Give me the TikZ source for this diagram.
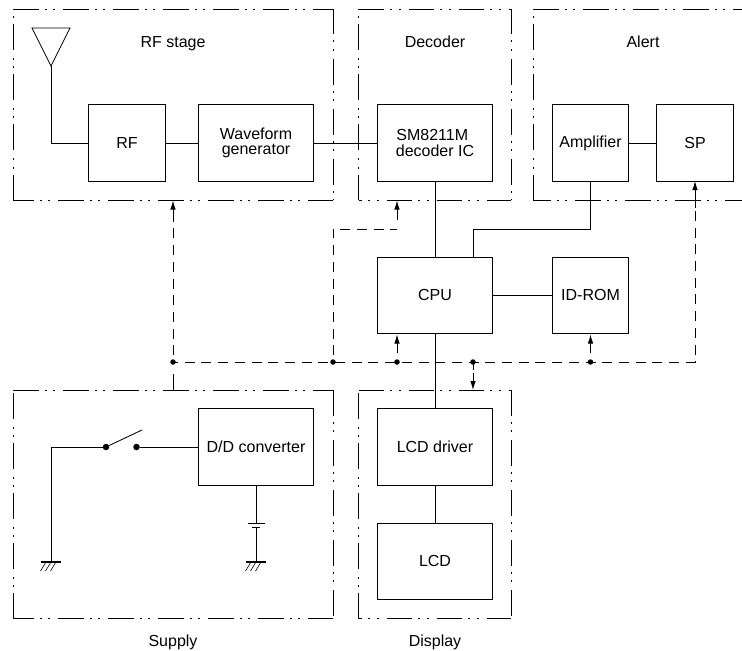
\documentclass[tikz,border=0pt]{standalone}
\usepackage{fontspec}
\setmainfont{Liberation Sans}
\usetikzlibrary{arrows.meta,calc}
\tikzset{
  boxnode/.style={draw,line width=1.05bp,inner sep=0pt,align=center,font=\fontsize{16bp}{15.5bp}\selectfont},
  smallbox/.style={boxnode,minimum width=76.5bp,minimum height=76.5bp},
  widebox/.style={boxnode,minimum width=114.5bp,minimum height=76.5bp},
  framelabel/.style={inner sep=0pt,anchor=base,font=\fontsize{16bp}{16bp}\selectfont},
  wire/.style={line width=0.85bp},
  frameline/.style={line width=0.85bp,dash pattern=on 25.5bp off 6bp on 2bp off 6.5bp on 2bp off 8bp},
  power/.style={line width=0.85bp,dash pattern=on 10bp off 6.7bp},
  stem/.style={line width=0.85bp,-{Latex[length=9bp,width=5.5bp]}},
  junction/.style={circle,fill=black,inner sep=0pt,minimum size=5.5bp},
  contact/.style={circle,fill=black,inner sep=0pt,minimum size=6.5bp},
}
\newcommand{\dashframe}[5]{%
  \draw[frameline] (#1,#3) -- (#2,#3);
  \draw[frameline] (#2,#3) -- (#2,#4);
  \draw[frameline] (#1,#4) -- (#1,#3);
  \draw[frameline,dash phase=#5bp] (#1,#4) -- (#2,#4);
}
\newcommand{\earth}[1]{%
  \draw[line width=1.05bp] ($(#1)+(-10,0)$) -- ($(#1)+(10,0)$);
  \foreach \dx in {-5,0,5}{\draw[line width=0.6bp] ($(#1)+(\dx,0)$) -- ($(#1)+(\dx-5.5,9)$);}
}
\newcommand{\up}[1]{\raisebox{1bp}{#1}}
\begin{document}
\begin{tikzpicture}[x=1bp,y=-1bp]
\useasboundingbox (0,0) rectangle (742,651);
% frames
\dashframe{13}{333}{9}{200}{5}
\dashframe{358.5}{511}{9}{200}{22}
\dashframe{13}{333}{390}{618.5}{5}
\dashframe{358.5}{511}{390}{618.5}{22}
\draw[frameline] (533,9) -- (742,9);
\draw[frameline] (533,200) -- (533,9);
\draw[frameline,dash phase=8bp] (533,200) -- (742,200);
% labels
\node[framelabel] (lrf) at (173,48) {RF stage};
\node[framelabel] (ldec) at (435,48) {Decoder};
\node[framelabel] (lal) at (643,48) {Alert};
\node[framelabel] (lsup) at (173,646.5) {Supply};
\node[framelabel] (ldis) at (435,646.5) {Display};
% boxes
\node[smallbox] (rf) at (127,143) {RF};
\node[widebox] (wave) at (256,143) {Waveform\\generator};
\node[widebox,align=left] (dec) at (435,143) {\hspace*{0.5bp}SM8211M\\decoder IC};
\node[smallbox] (amp) at (590.5,143) {Amplifier};
\node[smallbox] (sp) at (695,143) {SP};
\node[widebox] (cpu) at (435,295.5) {\up{CPU}};
\node[smallbox] (rom) at (590.5,295.5) {\up{ID-ROM}};
\node[widebox] (dd) at (256,447) {D/D converter};
\node[widebox] (drv) at (435,447) {LCD driver};
\node[widebox] (lcd) at (435,561.5) {\up{LCD}};
% antenna
\coordinate (apex) at (51,66);
\coordinate (antL) at (32,28);
\coordinate (antR) at (70,28);
\coordinate (antK) at (51,143);
\draw[wire] (antL) -- (antR) -- (apex) -- cycle;
\draw[wire] (apex) -- (antK) -- (rf.west);
% signal wires
\draw[wire] (rf) -- (wave);
\draw[wire] (wave) -- (dec);
\draw[wire] (amp) -- (sp);
\draw[wire] (dec) -- (cpu);
\draw[wire] (cpu) -- (rom);
\draw[wire] (cpu) -- (drv);
\draw[wire] (drv) -- (lcd);
\coordinate (ampk) at (590.5,229);
\coordinate (ampj) at (473,229);
\coordinate (cpuT) at (473,257);
\draw[wire] (amp.south) -- (ampk) -- (ampj) -- (cpuT);
% supply
\coordinate (g1k) at (51,447);
\coordinate (g1) at (51,562);
\node[contact] (sw1) at (106,447) {};
\node[contact] (sw2) at (136.5,447) {};
\coordinate (lever) at (142,430);
\draw[wire] (g1) -- (g1k) -- (sw1);
\draw[wire] (sw1) -- (lever);
\draw[wire] (sw2) -- (dd.west);
\earth{g1}
\coordinate (bat1) at (256,523);
\coordinate (bat2) at (256,527.5);
\coordinate (g2) at (256,562);
\draw[wire] (dd.south) -- (bat1);
\draw[wire] ($(bat1)+(-8.5,0)$) -- ($(bat1)+(8.5,0)$);
\draw[line width=1.05bp] ($(bat2)+(-4,0)$) -- ($(bat2)+(4,0)$);
\draw[wire] (bat2) -- (g2);
\earth{g2}
% power bus
\node[junction] (j1) at (173,362) {};
\node[junction] (j2) at (333,362) {};
\node[junction] (j3) at (397,362) {};
\node[junction] (j4) at (473,362) {};
\node[junction] (j5) at (590.5,362) {};
\coordinate (busE) at (695,362);
\coordinate (spT) at (695,208);
\coordinate (spS) at (695,181);
\draw[power,dash phase=5bp] (j1.center) -- (busE) -- (spT);
\draw[stem] (spT) -- (spS);
% RF stage feed
\coordinate (supT) at (173,390);
\coordinate (supF) at (173,374);
\coordinate (rfB) at (173,200.5);
\coordinate (rfT) at (173,219);
\draw[wire] (supT) -- (supF);
\draw[power,dash phase=10bp] (j1.center) -- (rfT);
\draw[stem] (rfT) -- (rfB);
% decoder feed
\coordinate (dk1) at (333,229);
\coordinate (dk2) at (397,229);
\coordinate (dT) at (397,220);
\coordinate (dB) at (397,200.5);
\draw[power,dash phase=10bp] (j2.center) -- (dk1) -- (dk2);
\draw[stem] (dT) -- (dB);
% CPU, ROM feeds
\coordinate (cS) at (397,334.5);
\coordinate (cT) at (397,353);
\draw[stem] (cT) -- (cS);
\coordinate (rS) at (590.5,334.5);
\coordinate (rT) at (590.5,353);
\draw[stem] (rT) -- (rS);
% display feed
\coordinate (dispT) at (473,390);
\coordinate (dispM) at (473,370);
\coordinate (dispS) at (473,373);
\draw[wire] (j4.center) -- (dispM);
\draw[stem] (dispS) -- (dispT);
\end{tikzpicture}
\end{document}
